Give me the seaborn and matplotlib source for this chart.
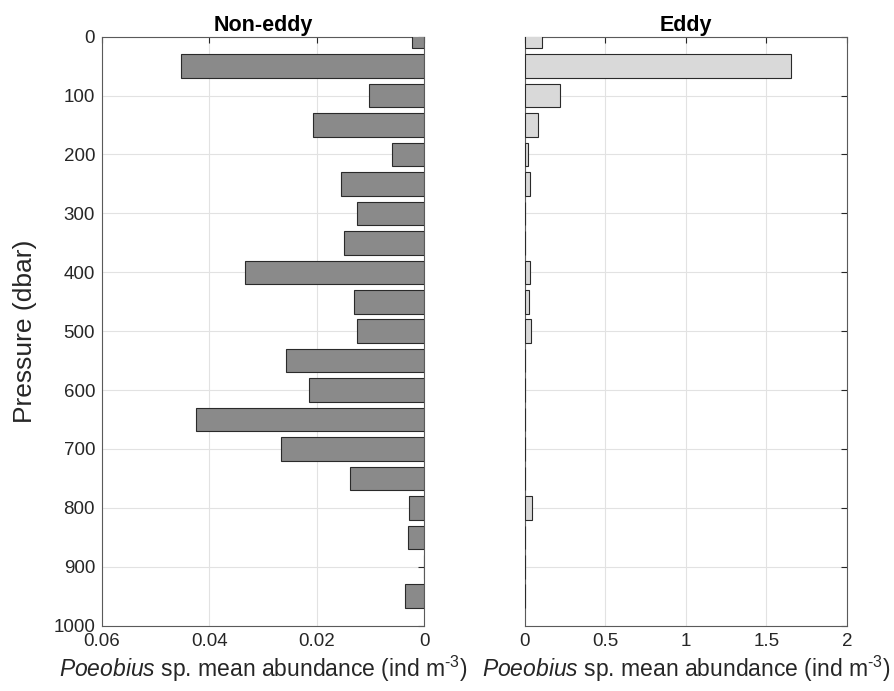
import matplotlib
matplotlib.use("Agg")
import matplotlib.pyplot as plt
import seaborn as sns
import pandas as pd

# Depth bins (dbar) and mean abundance (ind m^-3) per bin
depth = [0, 50, 100, 150, 200, 250, 300, 350, 400, 450,
         500, 550, 600, 650, 700, 750, 800, 850, 900, 950]
non_eddy = [0.0022, 0.0452, 0.0103, 0.0207, 0.0059, 0.0154, 0.0124, 0.0150, 0.0334, 0.0130,
            0.0124, 0.0257, 0.0214, 0.0424, 0.0267, 0.0137, 0.0028, 0.0030, 0.0, 0.0035]
eddy = [0.106, 1.652, 0.215, 0.081, 0.021, 0.033, 0.0, 0.0, 0.033, 0.027,
        0.037, 0.0, 0.0, 0.0, 0.0, 0.0, 0.041, 0.0, 0.0, 0.0]

panel_titles = ["Non-eddy", "Eddy"]
y_ticks = [0, 100, 200, 300, 400, 500, 600, 700, 800, 900, 1000]
left_xticks = [0.06, 0.04, 0.02, 0]
left_xlabels = ["0.06", "0.04", "0.02", "0"]
right_xticks = [0, 0.5, 1, 1.5, 2]
right_xlabels = ["0", "0.5", "1", "1.5", "2"]
xlabel_text = r"$\it{Poeobius}$ sp. mean abundance (ind m$^{\text{-3}}$)"

sns.set_style("white")
plt.rcParams["font.family"] = ["Liberation Sans", "DejaVu Sans"]
plt.rcParams["mathtext.fontset"] = "custom"
plt.rcParams["mathtext.rm"] = "Liberation Sans"
plt.rcParams["mathtext.it"] = "Liberation Sans:italic"
plt.rcParams["mathtext.bf"] = "Liberation Sans:bold"

axis_color = "#262626"
grid_color = "#e2e2e2"

fig = plt.figure(figsize=(8.94, 6.91), dpi=100)
ax_l = fig.add_axes([0.1141, 0.0945, 0.3602, 0.8524])
ax_r = fig.add_axes([0.5872, 0.0945, 0.3602, 0.8524])

df = pd.DataFrame({"depth": depth, "non_eddy": non_eddy, "eddy": eddy})

sns.barplot(data=df, x="non_eddy", y="depth", orient="h", native_scale=True,
            color="#8a8a8a", saturation=1, edgecolor="#2a2a2a", linewidth=0.8,
            width=0.8, ax=ax_l, zorder=3)
sns.barplot(data=df, x="eddy", y="depth", orient="h", native_scale=True,
            color="#d9d9d9", saturation=1, edgecolor="#2a2a2a", linewidth=0.8,
            width=0.8, ax=ax_r, zorder=3)

for ax, title in zip([ax_l, ax_r], panel_titles):
    ax.set_ylim(1000, 0)
    ax.set_yticks(y_ticks)
    ax.grid(True, color=grid_color, linewidth=0.8, zorder=0)
    ax.set_axisbelow(True)
    ax.tick_params(direction="in", top=True, right=True, length=4.5, width=0.8,
                   colors=axis_color, labelsize=13.5, pad=5)
    for sp in ax.spines.values():
        sp.set_color("#5a5a5a")
        sp.set_linewidth(0.8)
        sp.set_visible(True)
    ax.set_title(title, fontsize=15.5, fontweight="bold", pad=4, color="black")
    ax.set_xlabel(xlabel_text, fontsize=16.5, color=axis_color, labelpad=3)
    ax.set_ylabel("")

ax_l.set_xlim(0.06, 0)
ax_l.set_xticks(left_xticks)
ax_l.set_xticklabels(left_xlabels)
ax_l.set_yticklabels([str(t) for t in y_ticks])
ax_l.set_ylabel("Pressure (dbar)", fontsize=19, color=axis_color, labelpad=12)

ax_r.set_xlim(0, 2)
ax_r.set_xticks(right_xticks)
ax_r.set_xticklabels(right_xlabels)
ax_r.set_yticklabels([])

fig.savefig("out.png", dpi=100, facecolor="white")
